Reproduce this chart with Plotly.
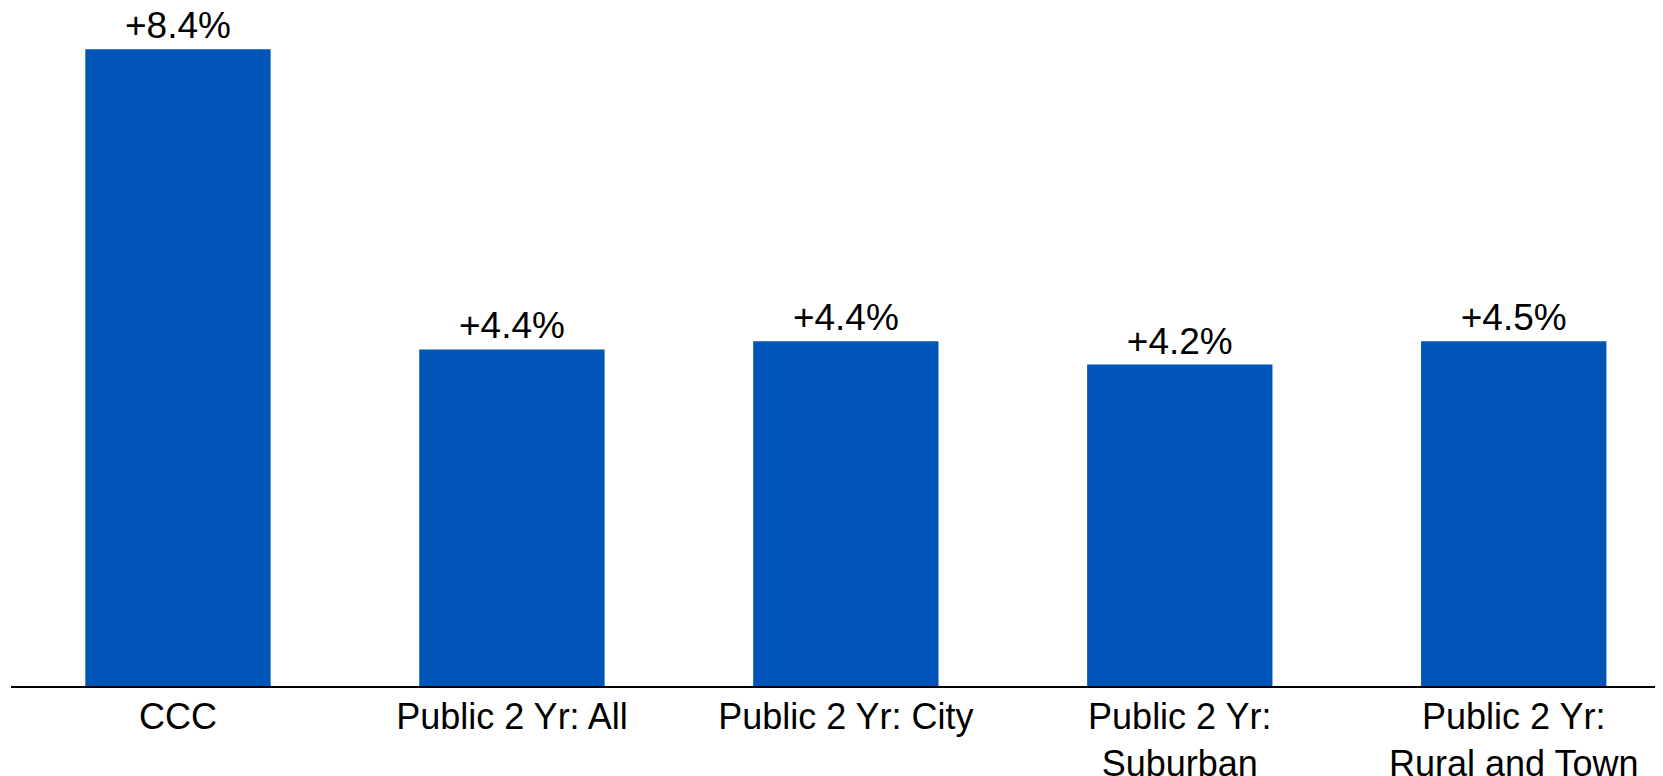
import plotly.graph_objects as go

categories = ["CCC", "Public 2 Yr: All", "Public 2 Yr: City",
              "Public 2 Yr:<br>Suburban", "Public 2 Yr:<br>Rural and Town"]
values = [8.4, 4.44, 4.55, 4.24, 4.55]
value_labels = ["+8.4%", "+4.4%", "+4.4%", "+4.2%", "+4.5%"]

FONT = "Liberation Sans, Arial, sans-serif"

# The HTML page body has an 8px margin, so the figure is drawn 8px
# smaller and offset accordingly to fill the 1663x776 window.
fig = go.Figure(go.Bar(
    x=categories,
    y=values,
    text=value_labels,
    textposition="outside",
    textfont=dict(family=FONT, size=37, color="#000000"),
    cliponaxis=False,
    constraintext="none",
    marker=dict(color="#0056B8", line=dict(width=0)),
    width=0.555,
    hoverinfo="skip",
))

fig.update_layout(
    width=1655, height=768,
    margin=dict(l=3, r=0, t=0, b=90, autoexpand=False),
    paper_bgcolor="white", plot_bgcolor="white",
    showlegend=False,
    font=dict(family=FONT, size=36, color="#000000"),
    xaxis=dict(
        type="category",
        range=[-0.5, 4.447],
        automargin=False,
        showline=True, linecolor="#000000", linewidth=2,
        ticks="", showgrid=False, zeroline=False,
        ticklabelstandoff=-2,
        tickfont=dict(family=FONT, size=36, color="#000000"),
    ),
    yaxis=dict(
        range=[0, 8.945],
        automargin=False,
        visible=False, showgrid=False, zeroline=False,
    ),
)

fig.write_html("out.html")
